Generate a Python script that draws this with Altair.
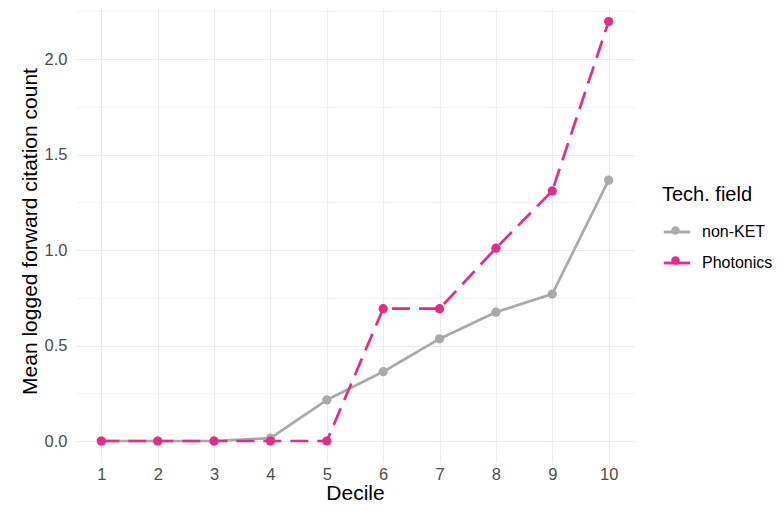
import altair as alt
import pandas as pd

deciles = list(range(1, 11))
non_ket = [0.0, 0.0, 0.0, 0.015, 0.215, 0.363, 0.535, 0.675, 0.77, 1.366]
photonics = [0.0, 0.0, 0.0, 0.0, 0.0, 0.693, 0.693, 1.01, 1.31, 2.197]
fields = ["non-KET", "Photonics"]
colors = ["#A9A9A9", "#E7298A"]
x_ticks = list(range(1, 11))
y_ticks = [0.0, 0.5, 1.0, 1.5, 2.0]

df = pd.DataFrame({
    "Decile": deciles * 2,
    "value": non_ket + photonics,
    "field": [fields[0]] * len(deciles) + [fields[1]] * len(deciles),
    "order": [0] * len(deciles) + [1] * len(deciles),
})

x_grid = sorted(x_ticks + [t + 0.5 for t in x_ticks[:-1]])
y_grid = sorted(y_ticks + [t + 0.25 for t in y_ticks])

FONT = "Liberation Sans"
TICK_SIZE = 16.5
TITLE_SIZE = 21

x_enc = alt.X("Decile:Q",
              scale=alt.Scale(domain=[0.55, 10.45], nice=False, zero=False),
              axis=alt.Axis(values=x_grid, title="Decile",
                            labelExpr="datum.value % 1 == 0 ? datum.label : ''",
                            gridColor="#EBEBEB",
                            gridWidth={"condition": {"test": "datum.value % 1 != 0", "value": 0.6}, "value": 1.1},
                            domain=False, ticks=False, labelPadding=4,
                            labelFont=FONT, labelFontSize=TICK_SIZE, labelColor="#4D4D4D",
                            titleFont=FONT, titleFontSize=TITLE_SIZE, titleColor="#000000",
                            titleFontWeight="normal", titlePadding=0))
y_enc = alt.Y("value:Q",
              scale=alt.Scale(domain=[-0.11, 2.31], nice=False, zero=False),
              axis=alt.Axis(values=y_grid, title="Mean logged forward citation count",
                            labelExpr="datum.value % 0.5 == 0 ? format(datum.value, '.1f') : ''",
                            gridColor="#EBEBEB",
                            gridWidth={"condition": {"test": "datum.value % 0.5 != 0", "value": 0.6}, "value": 1.1},
                            domain=False, ticks=False, labelPadding=9,
                            labelFont=FONT, labelFontSize=TICK_SIZE, labelColor="#4D4D4D",
                            titleFont=FONT, titleFontSize=TITLE_SIZE, titleColor="#000000",
                            titleFontWeight="normal", titlePadding=4))

line_path = "M-1,0L1,0"
dot_path = "M-1,0L1,0M-0.32,0A0.32,0.32,0,1,0,0.32,0A0.32,0.32,0,1,0,-0.32,0Z"

color_scale = alt.Scale(domain=fields, range=colors)
common = dict(orient="none", legendX=586, legendY=185, padding=0,
              titleFont=FONT, titleFontSize=20, titleFontWeight="normal", titleColor="#000000",
              labelFont=FONT, labelFontSize=16, labelColor="#000000",
              symbolSize=700, rowPadding=8, titlePadding=12, labelOffset=10)
legend_line = alt.Legend(title="Tech. field", symbolType=line_path, symbolStrokeWidth=2.8, **common)
legend_dot = alt.Legend(title=" ", symbolType=dot_path, symbolStrokeWidth=0,
                        labelExpr="''", **common)

base = alt.Chart(df)
lines = base.mark_line(strokeWidth=2.7).encode(
    x=x_enc, y=y_enc,
    color=alt.Color("field:N", scale=color_scale, legend=legend_line),
    strokeDash=alt.StrokeDash("field:N", scale=alt.Scale(domain=fields, range=[[1, 0], [18, 9]]), legend=None),
    order=alt.Order("order:Q"),
)
points = base.mark_point(filled=True, size=85, opacity=1).encode(
    x="Decile:Q", y="value:Q",
    color=alt.Color("field:N", scale=color_scale, legend=legend_dot),
    order=alt.Order("order:Q"),
)

chart = alt.layer(lines, points).resolve_legend(color="independent").properties(
    width=558, height=462,
    padding={"left": 68, "top": -8, "right": 141, "bottom": 41},
    autosize=alt.AutoSizeParams(type="none"),
    background="white",
).configure_view(stroke=None)

chart.save("out.html", embed_options={"renderer": "svg", "actions": False})
